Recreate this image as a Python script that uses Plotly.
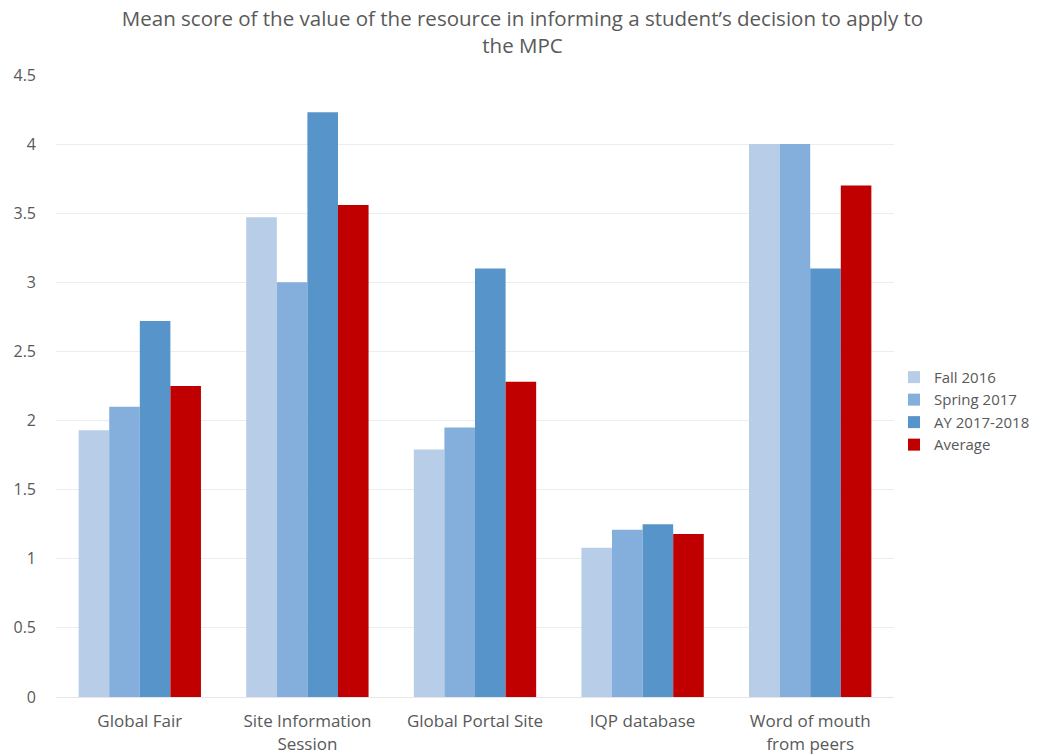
import plotly.graph_objects as go

categories = ["Global Fair", "Site Information<br>Session", "Global Portal Site", "IQP database", "Word of mouth<br>from peers"]
fall_2016 = [1.93, 3.47, 1.79, 1.08, 4.0]
spring_2017 = [2.10, 3.00, 1.95, 1.21, 4.0]
ay_2017_2018 = [2.72, 4.23, 3.10, 1.25, 3.10]
average = [2.25, 3.56, 2.28, 1.18, 3.70]

series = [
    ("Fall 2016", fall_2016, "#B7CDE8"),
    ("Spring 2017", spring_2017, "#84AFDC"),
    ("AY 2017-2018", ay_2017_2018, "#5794C9"),
    ("Average", average, "#C00000"),
]

fig = go.Figure()
for name, vals, color in series:
    fig.add_trace(go.Bar(x=categories, y=vals, name=name, marker=dict(color=color, line=dict(width=0))))

fig.update_layout(
    width=1029, height=748,
    barmode="group", bargap=0.27, bargroupgap=0,
    paper_bgcolor="white", plot_bgcolor="white",
    margin=dict(l=48, r=143, t=67, b=59, autoexpand=False),
    title=dict(text="Mean score of the value of the resource in informing a student’s decision to apply to<br>the MPC",
               x=0.5, xanchor="center", xref="container", y=0.976, yanchor="top", yref="container",
               font=dict(family="Open Sans", size=20.5, color="#595959")),
    font=dict(family="Open Sans", size=16, color="#595959"),
    legend=dict(x=1.0, xanchor="left", y=0.46, yanchor="middle", font=dict(size=15, color="#595959"),
                itemwidth=30, tracegroupgap=2),
    xaxis=dict(showgrid=False, showline=True, linecolor="#E6E6E6", tickfont=dict(size=17), ticks="",
               automargin=False, ticklabelstandoff=9),
    yaxis=dict(range=[0, 4.5], dtick=0.5, showgrid=True, gridcolor="#EDEDED", zeroline=False,
               tickfont=dict(size=16), ticks="", tickformat="~g", automargin=False, ticklabelstandoff=19),
)

fig.write_html("out.html")
